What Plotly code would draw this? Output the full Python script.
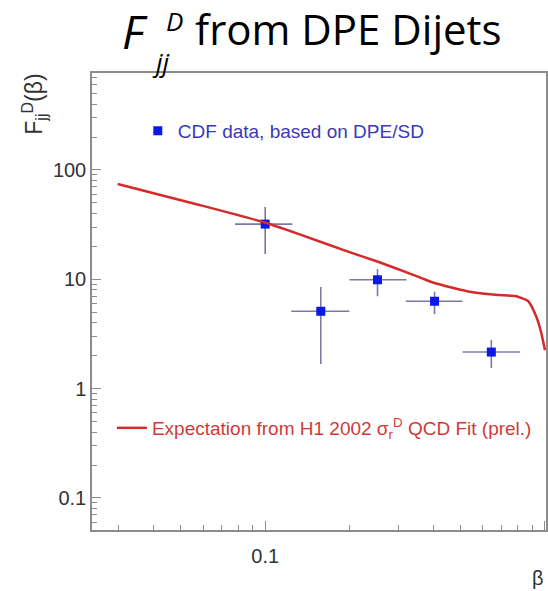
import plotly.graph_objects as go

# CDF data points
beta_data = [0.1, 0.158, 0.252, 0.403, 0.643]
beta_lo = [0.078, 0.124, 0.2, 0.318, 0.508]
beta_hi = [0.125, 0.2, 0.32, 0.507, 0.815]
F_data = [32.0, 5.1, 9.9, 6.3, 2.16]
F_hi = [45.8, 8.5, 12.4, 7.7, 2.79]
F_lo = [17.0, 1.68, 7.0, 4.8, 1.54]

# H1 2002 QCD fit expectation
beta_fit = [0.0297, 0.0582, 0.0984, 0.132, 0.199, 0.2545, 0.3255, 0.3926,
            0.471, 0.545, 0.681, 0.782, 0.870, 0.929, 0.968, 1.0]
F_fit = [74.5, 47.9, 33.4, 25.9, 17.8, 14.4, 11.4, 9.45,
         8.32, 7.65, 7.18, 7.03, 6.33, 4.61, 3.30, 2.25]

y_ticks = [0.1, 1, 10, 100]
y_tick_labels = ["0.1", "1", "10", "100"]
x_ticks = [0.1, 1]
x_tick_labels = ["0.1", "1"]

W, H = 548, 591
L, R, T, B = 92, 0, 73, 61
pw, ph = W - L - R, H - T - B


def px(x):
    return (x - L) / pw


def py(y):
    return (H - B - y) / ph


fig = go.Figure()

fig.add_trace(go.Scatter(
    x=beta_data, y=F_data, mode="markers",
    marker=dict(symbol="square", size=9, color="#0a18e8"),
    error_x=dict(type="data", symmetric=False,
                 array=[h - c for h, c in zip(beta_hi, beta_data)],
                 arrayminus=[c - l for c, l in zip(beta_data, beta_lo)],
                 color="#7a7aa8", thickness=1.6, width=0),
    error_y=dict(type="data", symmetric=False,
                 array=[h - c for h, c in zip(F_hi, F_data)],
                 arrayminus=[c - l for c, l in zip(F_data, F_lo)],
                 color="#7a7aa8", thickness=1.6, width=0),
    name="CDF data, based on DPE/SD",
    legend="legend", showlegend=True,
))

fig.add_trace(go.Scatter(
    x=beta_fit, y=F_fit, mode="lines",
    line=dict(color="#d42a2a", width=2.5, shape="spline", smoothing=0.5),
    name="Expectation from H1 2002 σ<sub>r</sub><sup>D</sup> QCD Fit (prel.)",
    legend="legend2", showlegend=True,
))

axis_common = dict(
    showgrid=False, zeroline=False, showline=True, linecolor="#8c8c8c", linewidth=1.5,
    mirror=True, ticks="inside", tickcolor="#8c8c8c", ticklen=9, tickwidth=1.2,
    tickfont=dict(family="Liberation Sans", size=20, color="#333333"),
    minor=dict(ticks="inside", ticklen=5, tickcolor="#8c8c8c", tickwidth=1.2, dtick="D1"),
)

fig.update_xaxes(type="log", range=[-1.619, 0.0036], tickvals=x_ticks, ticktext=x_tick_labels,
                 ticklabelstandoff=7, **axis_common)
fig.update_yaxes(type="log", range=[-1.293, 2.887], tickvals=y_ticks, ticktext=y_tick_labels,
                 **axis_common)

annotations = [
    dict(text="<i>F</i>", x=px(120), y=py(31), xanchor="left", yanchor="middle",
         font=dict(family="Open Sans", size=46, color="black")),
    dict(text="<i>jj</i>", x=px(150), y=py(62), xanchor="left", yanchor="middle",
         font=dict(family="Open Sans", size=26, color="black")),
    dict(text="<i>D</i>", x=px(164), y=py(21), xanchor="left", yanchor="middle",
         font=dict(family="Open Sans", size=26, color="black")),
    dict(text="from DPE Dijets", x=px(193), y=py(59), xanchor="left", yanchor="bottom",
         font=dict(family="Open Sans", size=42, color="black")),
    dict(text="F<sub>jj</sub><sup>D</sup>(β)", textangle=-90, x=px(33), y=py(72),
         xanchor="center", yanchor="top",
         font=dict(family="Liberation Sans", size=23, color="#333333")),
    dict(text="β", x=px(540), y=py(578), xanchor="center", yanchor="middle",
         font=dict(family="Liberation Sans", size=20, color="#333333")),
]
for a in annotations:
    a.update(xref="paper", yref="paper", showarrow=False)

fig.update_layout(
    width=W, height=H, margin=dict(l=L, r=R, t=T, b=B),
    paper_bgcolor="white", plot_bgcolor="white",
    showlegend=True,
    annotations=annotations,
    legend=dict(x=px(138), y=py(131), xanchor="left", yanchor="middle",
                bgcolor="rgba(0,0,0,0)",
                font=dict(family="Liberation Sans", size=19, color="#3a3ab8")),
    legend2=dict(x=px(112), y=py(428), xanchor="left", yanchor="middle",
                 bgcolor="rgba(0,0,0,0)",
                 font=dict(family="Liberation Sans", size=19, color="#d03a3a")),
)

fig.write_html("out.html")
